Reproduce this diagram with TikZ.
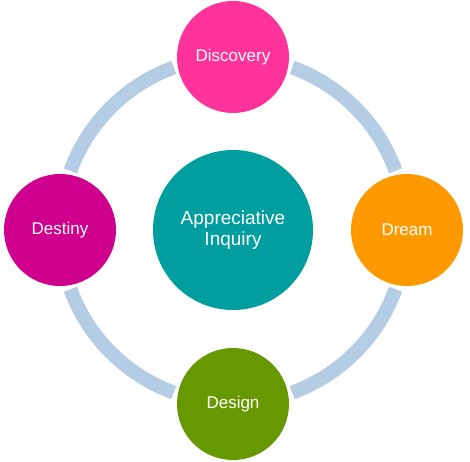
\documentclass[tikz,border=0pt]{standalone}
\usepackage{fontspec}
\setmainfont{Liberation Sans}
\usetikzlibrary{calc}
\definecolor{ringblue}{HTML}{B4CDE4}
\definecolor{cdisc}{HTML}{FF3399}
\definecolor{cdream}{HTML}{FF9900}
\definecolor{cdesign}{HTML}{669900}
\definecolor{cdest}{HTML}{D0008F}
\definecolor{cteal}{HTML}{009E9E}
\begin{document}
\begin{tikzpicture}[x=1pt,y=1pt,
  small/.style={circle,minimum size=112pt,inner sep=0pt,text=white,font=\fontsize{17}{20}\selectfont},
  big/.style={circle,minimum size=160pt,inner sep=0pt,text=white,align=center,font=\fontsize{19}{21}\selectfont},
  ringseg/.style={draw=ringblue,line width=14pt}]
\useasboundingbox[fill=white] (0,0) rectangle (470,461);
\coordinate (c) at (233,231);
\foreach \a in {20,110,200,290}{
  \draw[ringseg] ($(c)+(\a:173)$) arc[start angle=\a,end angle=\a+50,radius=173];
}
\node[big,fill=cteal] (center) at (c) {Appreciative\\Inquiry};
\node[small,fill=cdisc] (discovery) at (233,404) {Discovery};
\node[small,fill=cdream] (dream) at (407,231) {Dream};
\node[small,fill=cdesign] (design) at (233,57) {Design};
\node[small,fill=cdest] (destiny) at (60,231) {Destiny};
\end{tikzpicture}
\end{document}
